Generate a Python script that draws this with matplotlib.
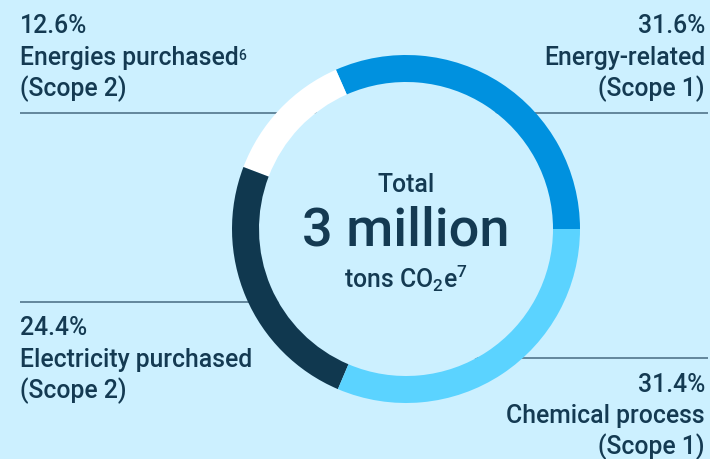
import matplotlib
matplotlib.use("Agg")
from matplotlib import pyplot as plt
from matplotlib.patches import Circle

# emisiones por fuente, en porcentaje del total
categorias = ["Energy-related", "Energies purchased", "Electricity purchased", "Chemical process"]
porcentajes = [31.6, 12.6, 24.4, 31.4]
alcances = ["(Scope 1)", "(Scope 2)", "(Scope 2)", "(Scope 1)"]
notas = ["", "6", "", ""]
colores = ["#0091df", "#ffffff", "#10384f", "#5bd3ff"]

fondo = "#ccf0ff"
texto = "#143a52"
linea = "#5a7e94"

plt.rcParams["font.family"] = ["Roboto", "DejaVu Sans"]
plt.rcParams["font.weight"] = "medium"
plt.rcParams["mathtext.fontset"] = "custom"
plt.rcParams["mathtext.rm"] = "Roboto:medium"
plt.rcParams["mathtext.it"] = "Roboto:medium"

W, H = 710, 459
fig = plt.figure(figsize=(W / 100, H / 100), dpi=100, facecolor=fondo)
ax = fig.add_axes([0, 0, 1, 1])
ax.set_facecolor(fondo)

cx, cy = 406, H - 229
r_ext, ancho = 174, 27


def y(v):
    # coordenadas de pixel medidas desde arriba
    return H - v


# lineas separadoras (quedan tapadas por el anillo)
for x0, x1, yy in [(20, cx, 113), (cx, 708, 113), (20, cx, 301.5), (cx, 708, 357.5)]:
    ax.plot([x0, x1], [y(yy), y(yy)], color=linea, lw=1.3, zorder=1, solid_capstyle="butt")

ax.pie(porcentajes, colors=colores, startangle=0, counterclock=True,
       center=(cx, cy), radius=r_ext,
       wedgeprops=dict(width=ancho, linewidth=0), frame=False)
for w in ax.patches:
    w.set_zorder(3)
ax.add_patch(Circle((cx, cy), r_ext - ancho, facecolor=fondo, edgecolor="none", zorder=2))

ax.set_xlim(0, W)
ax.set_ylim(0, H)
ax.set_aspect("equal")
ax.axis("off")

fs = 17.8
# posicion de cada rotulo: x, alineacion, lineas base
rotulos = [
    (705, "right", [33, 64.5, 96]),
    (20, "left", [33, 64.5, 96]),
    (20, "left", [335, 366.5, 398]),
    (705, "right", [392, 423, 454]),
]
for i, (x, ha, bases) in enumerate(rotulos):
    lineas = [f"{porcentajes[i]:.1f}%", categorias[i], alcances[i]]
    for k, (t, b) in enumerate(zip(lineas, bases)):
        txt = ax.text(x, y(b), t, ha=ha, va="baseline", fontsize=fs, color=texto, zorder=5)
        if k == 1 and notas[i]:
            # nota al pie pegada al final del nombre
            ax.annotate(notas[i], xy=(1, 1), xycoords=txt, xytext=(-0.5, -2.5),
                        textcoords="offset points", ha="left", va="top",
                        fontsize=10, color=texto)

ax.text(cx, y(192), "Total", ha="center", va="baseline", fontsize=fs, color=texto)
ax.text(cx, y(245), "3 million", ha="center", va="baseline", fontsize=39, color=texto)
ax.text(cx, y(288), r"tons CO$_{\mathregular{2}}$e$^{\mathregular{7}}$", ha="center",
        va="baseline", fontsize=fs, color=texto)

fig.savefig("out.png", dpi=100, facecolor=fondo)
